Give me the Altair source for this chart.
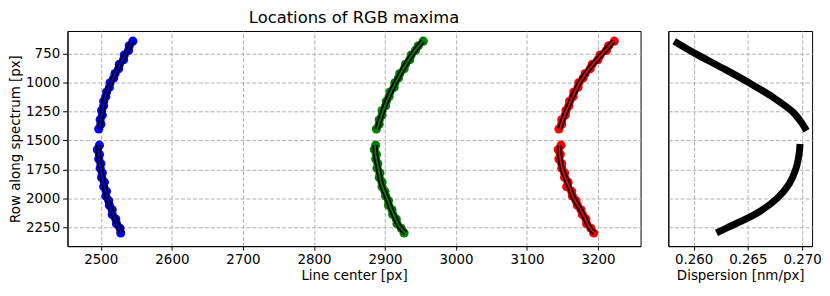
import altair as alt
import pandas as pd

# ---------------- data ----------------
rows_up = [640, 680, 720, 760, 800, 840, 880, 920, 960, 1000,
           1040, 1080, 1120, 1160, 1200, 1240, 1280, 1320, 1360, 1400]
rows_lo = [1540, 1580, 1620, 1660, 1700, 1740, 1780, 1820, 1860, 1900,
           1940, 1980, 2020, 2060, 2100, 2140, 2180, 2220, 2260, 2300]

blue_up_pts = [2545, 2540, 2539, 2533, 2532, 2526, 2525, 2520, 2518, 2513,
               2512, 2508, 2507, 2504, 2504, 2501, 2502, 2499, 2500, 2497]
blue_lo_pts = [2498, 2495, 2498, 2497, 2500, 2499, 2502, 2501, 2505, 2504,
               2508, 2507, 2511, 2512, 2516, 2516, 2521, 2522, 2527, 2528]
green_up_pts = [2954, 2947, 2943, 2937, 2935, 2929, 2927, 2921, 2919, 2914,
                2913, 2907, 2906, 2902, 2901, 2896, 2896, 2892, 2892, 2888]
green_lo_pts = [2887, 2885, 2888, 2887, 2890, 2889, 2893, 2892, 2896, 2896,
                2900, 2901, 2905, 2905, 2910, 2911, 2916, 2917, 2923, 2927]
red_up_pts = [3223, 3215, 3212, 3203, 3200, 3192, 3189, 3182, 3179, 3173,
              3172, 3166, 3165, 3160, 3159, 3155, 3154, 3149, 3149, 3145]
red_lo_pts = [3148, 3144, 3147, 3145, 3149, 3149, 3153, 3153, 3158, 3156,
              3163, 3164, 3169, 3171, 3176, 3178, 3183, 3184, 3190, 3194]

fit_rows_up = [640, 750, 875, 1000, 1125, 1250, 1400]
fit_rows_lo = [1540, 1625, 1750, 1875, 2000, 2125, 2250, 2300]
blue_up_fit = [2544, 2535, 2524, 2514, 2506, 2502, 2498]
blue_lo_fit = [2497, 2497, 2500, 2504, 2509, 2516, 2525, 2529]
green_up_fit = [2953, 2939, 2926, 2915, 2905, 2897, 2889]
green_lo_fit = [2886, 2887, 2891, 2895, 2903, 2911, 2921, 2929]
red_up_fit = [3222, 3206, 3188, 3174, 3164, 3155, 3146]
red_lo_fit = [3146, 3146, 3150, 3158, 3166, 3178, 3188, 3195]

disp_rows_up = [640, 750, 875, 1000, 1125, 1250, 1340, 1415]
disp_up = [0.2582, 0.2602, 0.2627, 0.2651, 0.2673, 0.2691, 0.2699, 0.2704]
disp_rows_lo = [1530, 1625, 1750, 1875, 2000, 2125, 2250, 2300]
disp_lo = [0.2698, 0.2697, 0.2694, 0.2688, 0.2677, 0.2659, 0.2632, 0.2621]

x_ticks = [2500, 2600, 2700, 2800, 2900, 3000, 3100, 3200]
y_ticks = [750, 1000, 1250, 1500, 1750, 2000, 2250]
d_ticks = [0.260, 0.265, 0.270]

colors = ["blue", "green", "red"]
color_hex = ["#0000ff", "#008000", "#ff0000"]

# ---------------- tables ----------------
pts = []
for c, up, lo in [("blue", blue_up_pts, blue_lo_pts),
                  ("green", green_up_pts, green_lo_pts),
                  ("red", red_up_pts, red_lo_pts)]:
    for r, v in zip(rows_up, up):
        pts.append({"c": c, "seg": c + "_up", "row": r, "x": v})
    for r, v in zip(rows_lo, lo):
        pts.append({"c": c, "seg": c + "_lo", "row": r, "x": v})
pts = pd.DataFrame(pts)

fits = []
for c, up, lo in [("blue", blue_up_fit, blue_lo_fit),
                  ("green", green_up_fit, green_lo_fit),
                  ("red", red_up_fit, red_lo_fit)]:
    for r, v in zip(fit_rows_up, up):
        fits.append({"c": c, "seg": c + "_up", "row": r, "x": v})
    for r, v in zip(fit_rows_lo, lo):
        fits.append({"c": c, "seg": c + "_lo", "row": r, "x": v})
fits = pd.DataFrame(fits)

disp = pd.DataFrame(
    [{"seg": "up", "row": r, "d": v} for r, v in zip(disp_rows_up, disp_up)]
    + [{"seg": "lo", "row": r, "d": v} for r, v in zip(disp_rows_lo, disp_lo)]
)

# ---------------- scales ----------------
xs = alt.Scale(domain=[2453, 3260], nice=False, zero=False)
ys = alt.Scale(domain=[552, 2414], reverse=True, nice=False, zero=False)
ds = alt.Scale(domain=[0.25766, 0.27091], nice=False, zero=False)
cs = alt.Scale(domain=colors, range=color_hex)

x_enc = alt.X("x:Q", scale=xs, title="Line center [px]",
              axis=alt.Axis(values=x_ticks, format="d"))
y_enc = alt.Y("row:Q", scale=ys, title="Row along spectrum [px]",
              axis=alt.Axis(values=y_ticks, format="d", titlePadding=3,
                            labelPadding=3, tickSize=4.9))

scatter = alt.Chart(pts).mark_circle(size=85, opacity=1).encode(
    x=x_enc, y=y_enc, color=alt.Color("c:N", scale=cs, legend=None),
    detail="seg:N",
)
fit_black = alt.Chart(fits).mark_line(color="black", strokeWidth=5.5,
                                      interpolate="catmull-rom").encode(
    x=x_enc, y=y_enc, detail="seg:N", order="row:Q",
)
fit_col = alt.Chart(fits).mark_line(strokeWidth=1.8,
                                    interpolate="catmull-rom").encode(
    x=x_enc, y=y_enc, color=alt.Color("c:N", scale=cs, legend=None),
    detail="seg:N", order="row:Q",
)

main = alt.layer(scatter, fit_black, fit_col).properties(
    width=578, height=217,
    title=alt.TitleParams("Locations of RGB maxima", fontSize=16.5,
                          font="DejaVu Sans", fontWeight="normal", offset=3.5),
)

right = alt.Chart(disp).mark_line(color="black", strokeWidth=7,
                                  interpolate="catmull-rom").encode(
    x=alt.X("d:Q", scale=ds, title="Dispersion [nm/px]",
            axis=alt.Axis(values=d_ticks, format=".3f")),
    y=alt.Y("row:Q", scale=ys, title=None,
            axis=alt.Axis(values=y_ticks, labels=False, ticks=False)),
    detail="seg:N", order="row:Q",
).properties(width=145, height=217)

chart = alt.hconcat(main, right, spacing=18).resolve_scale(
    y="independent", x="independent", color="independent"
).properties(
    padding={"left": 0, "top": 0, "right": 0, "bottom": 0}
).configure_view(
    stroke="black", strokeWidth=1
).configure_axis(
    labelFont="DejaVu Sans", titleFont="DejaVu Sans",
    labelFontSize=13.5, titleFontSize=13.5, titleFontWeight="normal",
    labelColor="black", titleColor="black",
    domainColor="black", tickColor="black",
    gridColor="#b0b0b0", gridDash=[4, 2], gridWidth=1, gridOpacity=1,
).configure_axisX(titlePadding=2.5, labelPadding=2.5, tickSize=4)

chart.save("out.html", embed_options={"renderer": "svg", "actions": False})
